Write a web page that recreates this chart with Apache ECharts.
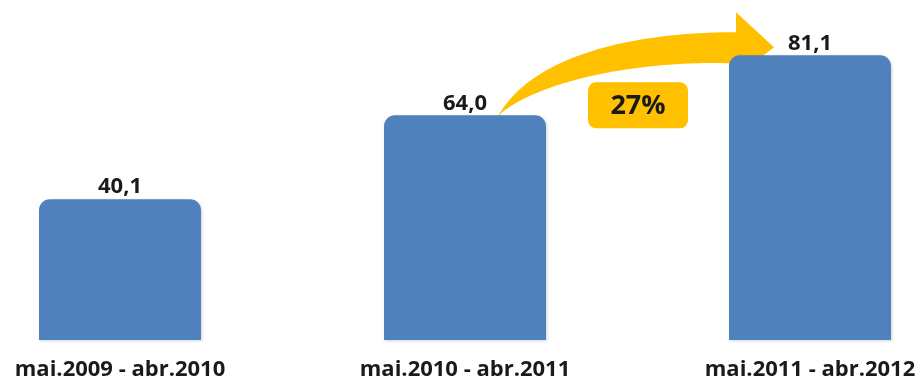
<!DOCTYPE html>
<html>
<head>
<meta charset="utf-8">
<script src="https://cdn.jsdelivr.net/npm/echarts@6/dist/echarts.min.js"></script>
<style>
  html, body { margin: 0; padding: 0; background: #ffffff; }
  #chart { width: 920px; height: 383px; }
</style>
</head>
<body>
<div id="chart"></div>
<script>
// Periods (May to April) and the yearly totals for each period
const categories = ['mai.2009 - abr.2010', 'mai.2010 - abr.2011', 'mai.2011 - abr.2012'];
const values = [40.1, 64.0, 81.1];

const FONT = '"Open Sans", Lato, "DejaVu Sans", sans-serif';
const BAR_BLUE = '#4F81BD';
const ARROW_YELLOW = '#FFC000';

// Curved growth arrow, drawn relative to its tail point (0, 0)
const GrowthArrow = echarts.graphic.extendShape({
  shape: { x: 0, y: 0 },
  buildPath: function (ctx, shape) {
    const x = shape.x, y = shape.y;
    ctx.moveTo(x, y);
    ctx.bezierCurveTo(x + 27, y - 65, x + 127, y - 93, x + 242, y - 93);
    ctx.lineTo(x + 242, y - 113);
    ctx.lineTo(x + 280, y - 78);
    ctx.lineTo(x + 235, y - 43);
    ctx.lineTo(x + 235, y - 62);
    ctx.bezierCurveTo(x + 147, y - 65, x + 47, y - 45, x + 7, y - 12);
    ctx.closePath();
  }
});
echarts.graphic.registerShape('growthArrow', GrowthArrow);

const chart = echarts.init(document.getElementById('chart'), null, { renderer: 'canvas' });

const fmt = v => v.toFixed(1).replace('.', ',');

chart.setOption({
  animation: false,
  backgroundColor: '#ffffff',
  grid: { left: 120, right: 110, top: 24, bottom: 43, containLabel: false },
  xAxis: {
    type: 'category',
    data: categories,
    boundaryGap: false,
    axisLine: { show: false },
    axisTick: { show: false },
    axisLabel: {
      margin: 19,
      fontFamily: FONT,
      fontWeight: 'bold',
      fontSize: 22,
      color: '#1a1a1a'
    }
  },
  yAxis: {
    type: 'value',
    min: 0,
    max: 90,
    show: false,
    splitLine: { show: false }
  },
  series: [{
    type: 'bar',
    data: values,
    barWidth: 162,
    itemStyle: {
      color: BAR_BLUE,
      borderRadius: [11, 11, 0, 0],
      shadowColor: 'rgba(0,0,0,0.18)',
      shadowBlur: 3,
      shadowOffsetX: 1,
      shadowOffsetY: 1
    },
    label: {
      show: true,
      position: 'top',
      distance: 1,
      formatter: p => fmt(p.value),
      fontFamily: FONT,
      fontWeight: 'bold',
      fontSize: 22,
      color: '#1a1a1a'
    }
  }]
});

// Growth arrow from the second period to the third, with the percentage badge
const growth = Math.round((values[2] / values[1] - 1) * 100);
const top2 = chart.convertToPixel({ seriesIndex: 0 }, [1, values[1]]);
const anchor = [top2[0] + 29, top2[1] + 10];

chart.setOption({
  graphic: [{
    type: 'group',
    x: anchor[0],
    y: anchor[1],
    z: 100,
    children: [
      {
        type: 'growthArrow',
        shape: { x: 0, y: 0 },
        style: { fill: ARROW_YELLOW }
      },
      {
        type: 'rect',
        shape: { x: 94, y: -43, width: 100, height: 46, r: 8 },
        style: { fill: ARROW_YELLOW }
      },
      {
        type: 'text',
        x: 144,
        y: -19,
        style: {
          text: growth + '%',
          fontFamily: FONT,
          fontWeight: 'bold',
          fontSize: 27,
          fill: '#1a1a1a',
          align: 'center',
          verticalAlign: 'middle'
        }
      }
    ]
  }]
});
</script>
</body>
</html>
